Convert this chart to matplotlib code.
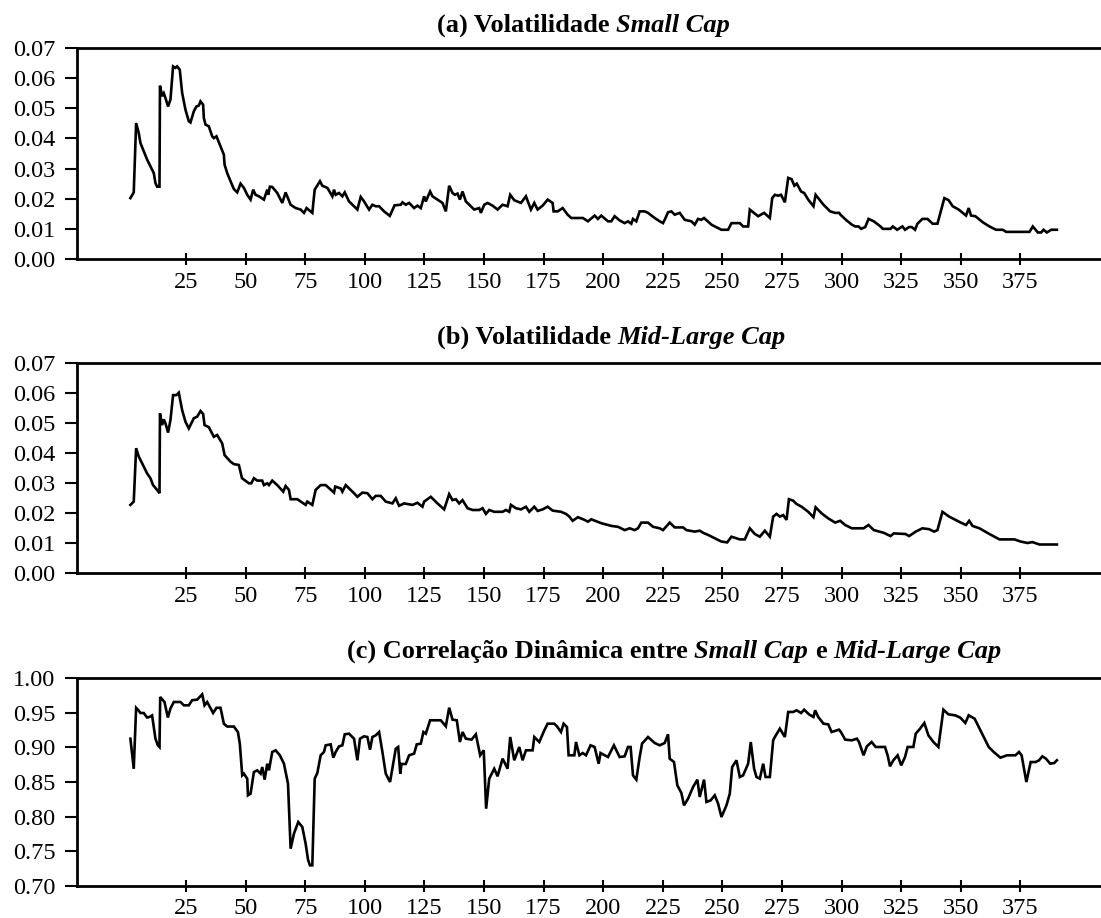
import numpy as np
import matplotlib
matplotlib.use("Agg")
import matplotlib.pyplot as plt

# ---------------- data ----------------
small_cap_vol = [
    (1.7, 0.0202), (3.1, 0.0221), (4.1, 0.0451), (5.2, 0.0418), (5.9, 0.0385), (8.7, 0.0330),
    (11.5, 0.0285), (12.2, 0.0252), (12.9, 0.0240), (13.9, 0.0240), (14.1, 0.0575), (15.0, 0.0540),
    (15.7, 0.0550), (16.4, 0.0534), (17.5, 0.0506), (18.5, 0.0529), (19.6, 0.0639), (20.6, 0.0634),
    (21.3, 0.0639), (22.4, 0.0628), (23.4, 0.0551), (24.8, 0.0495), (26.2, 0.0457), (26.9, 0.0453),
    (28.3, 0.0490), (29.4, 0.0506), (30.4, 0.0509), (31.1, 0.0523), (32.2, 0.0512), (32.5, 0.0468),
    (33.2, 0.0446), (34.6, 0.0440), (36.0, 0.0407), (36.7, 0.0401), (37.8, 0.0407), (39.5, 0.0374),
    (40.9, 0.0346), (41.2, 0.0313), (42.3, 0.0285), (43.7, 0.0258), (45.1, 0.0232), (46.5, 0.0221),
    (47.9, 0.0250), (49.3, 0.0236), (50.7, 0.0213), (52.1, 0.0197), (53.2, 0.0230), (54.2, 0.0213),
    (55.6, 0.0208), (57.7, 0.0197), (59.1, 0.0230), (59.5, 0.0213), (60.2, 0.0240), (61.2, 0.0239),
    (63.3, 0.0219), (65.4, 0.0186), (66.8, 0.0221), (68.9, 0.0180), (71.0, 0.0169), (73.1, 0.0164),
    (74.5, 0.0153), (75.6, 0.0169), (78.0, 0.0153), (79.0, 0.0230), (81.2, 0.0258), (82.2, 0.0243),
    (84.3, 0.0236), (86.4, 0.0208), (87.1, 0.0230), (87.8, 0.0213), (89.2, 0.0219), (90.6, 0.0208),
    (91.6, 0.0221), (93.4, 0.0191), (96.9, 0.0164), (98.3, 0.0206), (99.7, 0.0191), (101.8, 0.0164),
    (103.2, 0.0180), (104.6, 0.0175), (106.0, 0.0175), (108.1, 0.0158), (110.5, 0.0143), (112.5, 0.0178),
    (115.1, 0.0180), (115.8, 0.0188), (117.2, 0.0180), (118.6, 0.0186), (120.7, 0.0169), (122.1, 0.0177),
    (123.5, 0.0169), (124.9, 0.0208), (125.6, 0.0191), (127.4, 0.0224), (128.4, 0.0208), (130.5, 0.0197),
    (132.6, 0.0186), (134.0, 0.0158), (135.4, 0.0243), (136.8, 0.0219), (137.8, 0.0213), (138.9, 0.0217),
    (139.9, 0.0197), (141.0, 0.0224), (142.4, 0.0191), (144.5, 0.0175), (145.9, 0.0164), (148.0, 0.0169),
    (148.7, 0.0153), (150.1, 0.0180), (151.5, 0.0186), (153.6, 0.0177), (155.7, 0.0164), (157.8, 0.0180),
    (159.9, 0.0175), (161.0, 0.0213), (162.7, 0.0195), (165.5, 0.0186), (167.6, 0.0208), (169.7, 0.0164),
    (171.1, 0.0186), (172.5, 0.0164), (174.6, 0.0177), (176.7, 0.0197), (178.8, 0.0186), (179.2, 0.0158),
    (180.9, 0.0158), (183.0, 0.0169), (185.1, 0.0147), (186.6, 0.0136), (191.5, 0.0136), (193.6, 0.0125),
    (196.4, 0.0144), (197.8, 0.0133), (199.2, 0.0144), (202.0, 0.0125), (203.4, 0.0125), (204.8, 0.0142),
    (206.9, 0.0128), (209.0, 0.0119), (210.4, 0.0125), (211.8, 0.0117), (212.5, 0.0133), (213.9, 0.0125),
    (215.3, 0.0158), (217.4, 0.0158), (218.8, 0.0153), (221.6, 0.0136), (223.7, 0.0125), (225.1, 0.0119),
    (225.8, 0.0130), (227.2, 0.0155), (228.6, 0.0158), (230.0, 0.0147), (232.1, 0.0153), (234.2, 0.0130),
    (237.0, 0.0125), (238.4, 0.0114), (239.8, 0.0133), (241.2, 0.0130), (242.3, 0.0136), (245.4, 0.0114),
    (246.8, 0.0108), (249.6, 0.0097), (252.4, 0.0097), (253.8, 0.0119), (257.3, 0.0119), (258.7, 0.0108),
    (260.8, 0.0108), (261.5, 0.0164), (262.9, 0.0155), (265.0, 0.0142), (267.5, 0.0153), (269.9, 0.0136),
    (270.9, 0.0202), (272.0, 0.0213), (273.4, 0.0210), (274.6, 0.0213), (276.2, 0.0188), (277.6, 0.0269),
    (279.0, 0.0265), (280.2, 0.0243), (281.2, 0.0250), (283.0, 0.0224), (284.3, 0.0219), (286.0, 0.0197),
    (288.2, 0.0175), (289.1, 0.0213), (290.2, 0.0202), (292.4, 0.0180), (295.2, 0.0158), (297.3, 0.0153),
    (299.0, 0.0153), (299.5, 0.0147), (302.1, 0.0128), (304.3, 0.0114), (305.7, 0.0108), (307.1, 0.0108),
    (308.2, 0.0100), (309.9, 0.0106), (311.3, 0.0133), (313.5, 0.0125), (316.3, 0.0108), (317.3, 0.0100),
    (320.5, 0.0100), (321.5, 0.0108), (323.3, 0.0097), (325.5, 0.0108), (326.6, 0.0097), (328.3, 0.0106),
    (329.4, 0.0106), (330.8, 0.0097), (331.8, 0.0117), (333.9, 0.0133), (336.0, 0.0133), (338.2, 0.0117),
    (340.2, 0.0117), (341.6, 0.0158), (343.1, 0.0202), (344.9, 0.0195), (346.6, 0.0175), (349.1, 0.0164),
    (352.2, 0.0144), (353.3, 0.0169), (354.3, 0.0144), (356.1, 0.0142), (359.2, 0.0122), (362.0, 0.0108),
    (364.8, 0.0097), (367.6, 0.0097), (369.0, 0.0090), (378.8, 0.0090), (380.2, 0.0108), (382.3, 0.0088),
    (383.7, 0.0088), (384.7, 0.0097), (386.1, 0.0088), (387.9, 0.0097), (390.3, 0.0097),
]

midlarge_cap_vol = [
    (1.7, 0.0227), (3.1, 0.0238), (4.1, 0.0416), (5.2, 0.0388), (6.6, 0.0366), (8.7, 0.0332),
    (10.1, 0.0316), (11.2, 0.0293), (12.9, 0.0277), (13.9, 0.0266), (14.1, 0.0532), (15.0, 0.0493),
    (15.7, 0.0512), (16.4, 0.0499), (17.5, 0.0468), (18.5, 0.0510), (19.6, 0.0593), (21.0, 0.0593),
    (22.0, 0.0601), (23.4, 0.0543), (24.8, 0.0504), (26.2, 0.0482), (28.3, 0.0516), (29.7, 0.0521),
    (31.1, 0.0540), (32.2, 0.0530), (32.8, 0.0493), (34.6, 0.0486), (36.7, 0.0454), (38.1, 0.0460),
    (40.2, 0.0432), (41.2, 0.0393), (43.7, 0.0371), (45.1, 0.0363), (47.2, 0.0360), (48.5, 0.0316),
    (51.4, 0.0299), (52.4, 0.0299), (53.5, 0.0316), (54.9, 0.0308), (57.0, 0.0308), (57.7, 0.0293),
    (59.1, 0.0299), (59.8, 0.0293), (61.2, 0.0308), (63.3, 0.0293), (65.8, 0.0271), (66.8, 0.0290),
    (68.2, 0.0277), (68.9, 0.0246), (71.7, 0.0246), (75.2, 0.0227), (75.9, 0.0238), (78.0, 0.0227),
    (79.4, 0.0277), (81.5, 0.0293), (83.6, 0.0293), (87.1, 0.0268), (87.6, 0.0288), (89.9, 0.0282),
    (90.6, 0.0271), (92.0, 0.0293), (95.5, 0.0266), (96.9, 0.0254), (99.0, 0.0268), (101.1, 0.0266),
    (103.2, 0.0246), (104.6, 0.0257), (106.7, 0.0257), (108.8, 0.0238), (111.6, 0.0232), (113.0, 0.0249),
    (114.4, 0.0224), (116.5, 0.0232), (120.0, 0.0227), (122.1, 0.0234), (124.2, 0.0221), (124.9, 0.0238),
    (127.7, 0.0254), (130.5, 0.0232), (133.3, 0.0212), (135.4, 0.0263), (136.8, 0.0243), (138.2, 0.0246),
    (139.6, 0.0232), (141.0, 0.0243), (143.1, 0.0216), (145.2, 0.0210), (148.0, 0.0210), (149.4, 0.0216),
    (150.8, 0.0197), (152.2, 0.0210), (154.3, 0.0204), (157.8, 0.0204), (159.2, 0.0210), (160.6, 0.0204),
    (161.3, 0.0227), (163.4, 0.0216), (165.5, 0.0212), (167.6, 0.0221), (169.0, 0.0204), (171.1, 0.0221),
    (172.5, 0.0207), (174.6, 0.0212), (176.7, 0.0221), (178.8, 0.0208), (182.3, 0.0204), (184.4, 0.0197),
    (185.8, 0.0188), (187.2, 0.0174), (189.4, 0.0186), (192.2, 0.0177), (193.6, 0.0171), (195.0, 0.0179),
    (199.2, 0.0166), (203.4, 0.0157), (206.2, 0.0154), (209.0, 0.0143), (211.1, 0.0149), (213.2, 0.0143),
    (214.6, 0.0149), (216.0, 0.0168), (218.8, 0.0168), (220.9, 0.0154), (223.7, 0.0149), (225.1, 0.0143),
    (227.9, 0.0168), (230.0, 0.0152), (233.5, 0.0152), (234.9, 0.0143), (238.4, 0.0138), (240.5, 0.0141),
    (241.9, 0.0134), (244.0, 0.0127), (246.8, 0.0116), (249.5, 0.0105), (252.0, 0.0102), (253.8, 0.0121),
    (257.3, 0.0112), (259.4, 0.0112), (261.5, 0.0149), (263.6, 0.0130), (265.7, 0.0121), (267.8, 0.0141),
    (269.9, 0.0121), (271.3, 0.0188), (272.7, 0.0197), (274.1, 0.0188), (275.5, 0.0193), (276.9, 0.0177),
    (277.9, 0.0246), (279.7, 0.0241), (281.1, 0.0230), (283.2, 0.0221), (286.0, 0.0204), (288.2, 0.0186),
    (289.1, 0.0219), (291.6, 0.0199), (294.4, 0.0182), (297.3, 0.0168), (299.4, 0.0174), (301.5, 0.0160),
    (304.3, 0.0149), (309.2, 0.0149), (311.3, 0.0160), (313.5, 0.0143), (317.7, 0.0134), (320.5, 0.0123),
    (321.9, 0.0132), (326.8, 0.0130), (328.3, 0.0123), (331.1, 0.0138), (333.9, 0.0149), (336.7, 0.0146),
    (338.8, 0.0138), (340.2, 0.0143), (342.3, 0.0204), (345.1, 0.0188), (350.0, 0.0168), (352.2, 0.0160),
    (353.5, 0.0174), (354.9, 0.0157), (357.8, 0.0149), (362.0, 0.0130), (366.2, 0.0112), (372.5, 0.0112),
    (375.0, 0.0105), (378.0, 0.0100), (380.0, 0.0103), (383.0, 0.0095), (390.3, 0.0095),
]

dynamic_corr = [
    (1.7, 0.9125), (3.1, 0.869), (4.1, 0.957), (5.2, 0.953), (5.9, 0.9495), (7.3, 0.9495), (8.7, 0.943),
    (9.8, 0.944), (10.8, 0.946), (12.2, 0.9125), (13.2, 0.903), (13.9, 0.9005), (14.2, 0.9726),
    (16.0, 0.9654), (17.4, 0.943), (18.5, 0.956), (19.9, 0.9654), (22.7, 0.9654), (24.1, 0.9606),
    (26.2, 0.9606), (27.6, 0.968), (29.7, 0.9688), (31.8, 0.9764), (32.8, 0.9606), (33.9, 0.9654),
    (36.4, 0.9495), (37.8, 0.957), (39.5, 0.957), (40.9, 0.934), (42.3, 0.930), (45.1, 0.930),
    (46.8, 0.922), (47.6, 0.905), (48.6, 0.8596), (49.3, 0.862), (50.7, 0.8548), (51.0, 0.8308),
    (52.1, 0.8332), (53.5, 0.8644), (54.9, 0.8668), (56.3, 0.862), (57.0, 0.8716), (58.0, 0.8534),
    (59.1, 0.8764), (59.8, 0.8668), (61.2, 0.8933), (62.6, 0.8957), (64.4, 0.8885), (66.1, 0.8764),
    (67.8, 0.8476), (68.9, 0.7538), (70.3, 0.7755), (72.1, 0.7923), (73.8, 0.7851), (75.2, 0.761),
    (76.2, 0.738), (77.0, 0.7298), (78.0, 0.7298), (79.0, 0.8548), (80.1, 0.863), (81.5, 0.8885),
    (82.9, 0.8933), (83.6, 0.9029), (85.7, 0.9043), (86.8, 0.8851), (87.8, 0.8933), (89.2, 0.9014),
    (90.6, 0.9029), (91.6, 0.9188), (93.4, 0.9197), (95.5, 0.9125), (96.9, 0.8813), (98.0, 0.9125),
    (99.7, 0.9159), (101.1, 0.9149), (102.2, 0.8966), (103.2, 0.9149), (104.6, 0.9173), (106.0, 0.9221),
    (107.4, 0.8933), (108.8, 0.862), (110.6, 0.850), (113.0, 0.898), (114.0, 0.9005), (114.9, 0.862),
    (115.4, 0.876), (117.2, 0.876), (118.6, 0.8885), (120.7, 0.891), (121.8, 0.9043), (123.5, 0.9053),
    (124.6, 0.9221), (125.6, 0.9197), (127.4, 0.939), (131.9, 0.939), (134.0, 0.9303), (135.4, 0.9572),
    (136.8, 0.9399), (138.6, 0.939), (139.9, 0.9077), (141.0, 0.9221), (142.4, 0.9125), (144.8, 0.9111),
    (146.6, 0.9188), (148.4, 0.8885), (149.9, 0.8957), (150.9, 0.8115), (152.2, 0.8548), (154.3, 0.8692),
    (155.7, 0.8582), (157.8, 0.8837), (159.9, 0.8692), (161.0, 0.9149), (162.7, 0.8813), (164.8, 0.9005),
    (166.2, 0.8813), (167.6, 0.8957), (170.4, 0.8957), (171.1, 0.9149), (173.2, 0.9077), (175.3, 0.9245),
    (176.7, 0.9341), (179.5, 0.9341), (180.6, 0.9303), (182.3, 0.9221), (183.4, 0.9341), (184.8, 0.9293),
    (185.5, 0.8885), (187.9, 0.8885), (188.6, 0.9077), (190.0, 0.8885), (191.4, 0.8918), (192.8, 0.8885),
    (194.7, 0.9029), (196.4, 0.9005), (198.1, 0.8764), (198.9, 0.8918), (202.0, 0.886), (204.5, 0.9029),
    (206.9, 0.886), (209.0, 0.887), (210.4, 0.9005), (211.5, 0.9005), (212.5, 0.8596), (213.9, 0.8534),
    (215.3, 0.886), (216.3, 0.9053), (218.8, 0.9149), (221.6, 0.9063), (223.7, 0.9029), (225.8, 0.9063),
    (227.2, 0.9188), (227.9, 0.8837), (229.7, 0.8788), (231.1, 0.8452), (232.8, 0.8341), (233.9, 0.8163),
    (235.6, 0.826), (237.7, 0.8428), (239.5, 0.8534), (240.5, 0.8284), (242.3, 0.8534), (243.3, 0.8212),
    (245.1, 0.8236), (246.8, 0.8308), (248.2, 0.8188), (249.6, 0.7995), (251.7, 0.8163), (253.1, 0.8332),
    (254.1, 0.8716), (255.9, 0.8813), (257.3, 0.8572), (258.7, 0.8596), (260.8, 0.8764), (261.9, 0.9077),
    (263.3, 0.8692), (264.3, 0.8572), (265.7, 0.8548), (267.1, 0.8764), (268.1, 0.8572), (269.9, 0.8572),
    (271.3, 0.9101), (272.0, 0.9149), (274.1, 0.9269), (276.2, 0.9149), (277.6, 0.951), (279.7, 0.951),
    (281.1, 0.9534), (283.0, 0.9495), (284.3, 0.9543), (286.3, 0.9476), (288.2, 0.9438), (288.9, 0.9534),
    (290.2, 0.9438), (292.4, 0.9341), (294.4, 0.9332), (295.8, 0.9221), (298.9, 0.9255), (299.7, 0.9221),
    (301.5, 0.9111), (304.3, 0.9101), (306.4, 0.9125), (307.3, 0.9077), (309.2, 0.8885), (310.6, 0.9014),
    (312.6, 0.9077), (314.3, 0.9005), (318.2, 0.9005), (319.3, 0.8885), (320.3, 0.8726), (321.7, 0.8813),
    (323.5, 0.8885), (325.0, 0.874), (326.6, 0.886), (327.7, 0.9005), (330.1, 0.9005), (331.1, 0.9197),
    (332.9, 0.9269), (334.7, 0.9351), (336.4, 0.9173), (338.5, 0.9077), (340.6, 0.9005), (342.7, 0.9543),
    (344.8, 0.9476), (347.6, 0.9462), (349.8, 0.9428), (351.9, 0.9351), (353.3, 0.9462), (355.8, 0.9413),
    (358.9, 0.9197), (361.7, 0.9005), (363.8, 0.8933), (366.6, 0.8851), (369.4, 0.8885), (372.9, 0.8885),
    (374.4, 0.8933), (375.5, 0.8885), (377.5, 0.850), (379.3, 0.8788), (381.4, 0.8788), (382.8, 0.8813),
    (384.2, 0.887), (385.7, 0.8837), (387.5, 0.8764), (389.2, 0.8774), (390.3, 0.8813),
]

x_ticks = [25, 50, 75, 100, 125, 150, 175, 200, 225, 250, 275, 300, 325, 350, 375]
vol_ticks = [0.00, 0.01, 0.02, 0.03, 0.04, 0.05, 0.06, 0.07]
corr_ticks = [0.70, 0.75, 0.80, 0.85, 0.90, 0.95, 1.00]

titles = [
    [("(a) Volatilidade", "normal"), (" ", None), ("Small Cap", "italic")],
    [("(b) Volatilidade", "normal"), (" ", None), ("Mid-Large Cap", "italic")],
    [("(c) Correlação Dinâmica entre", "normal"), (" ", None), ("Small Cap", "italic"),
     (" ", None), ("e", "normal"), (" ", None), ("Mid-Large Cap", "italic")],
]

# ---------------- figure ----------------
W, H = 1101, 918
DPI = 100
FONT = "Liberation Serif"
plt.rcParams["font.family"] = [FONT, "DejaVu Serif"]

fig = plt.figure(figsize=(W / DPI, H / DPI), dpi=DPI)

# axes boxes in pixels: (left, top, bottom)
boxes = [(77, 48, 259), (77, 363, 573), (77, 678, 886)]
series = [small_cap_vol, midlarge_cap_vol, dynamic_corr]
ylims = [(0.0, 0.07), (0.0, 0.07), (0.70, 1.00)]
yticks = [vol_ticks, vol_ticks, corr_ticks]
title_pos = [(437, 32), (437, 344), (347, 658)]
XLIM = (-20.7, 408.8)

for (l, t, b), data, yl, yt in zip(boxes, series, ylims, yticks):
    ax = fig.add_axes([l / W, (H - b) / H, (W - l) / W, (b - t) / H])
    arr = np.array(data)
    ax.plot(arr[:, 0], arr[:, 1], color="black", lw=1.9, solid_joinstyle="miter")
    ax.set_xlim(*XLIM)
    ax.set_ylim(*yl)
    ax.set_xticks(x_ticks)
    ax.set_xticklabels([str(v) for v in x_ticks])
    ax.set_yticks(yt)
    ax.set_yticklabels([f"{v:.2f}" for v in yt])
    ax.spines["right"].set_visible(False)
    for s in ("left", "bottom", "top"):
        ax.spines[s].set_linewidth(2.0)
    ax.tick_params(axis="y", direction="out", length=8.6, width=1.5, pad=7, labelsize=17.5)
    ax.tick_params(axis="x", direction="inout", length=8, width=1.5, pad=5, labelsize=17.5)
    for lab in ax.get_xticklabels() + ax.get_yticklabels():
        lab.set_fontfamily(FONT)

# titles with mixed bold / bold-italic pieces
renderer = fig.canvas.get_renderer()
TSIZE = 19


def text_width(s, style):
    t = fig.text(0, 0, s, fontsize=TSIZE, fontweight="bold", fontstyle=style, family=FONT)
    w = t.get_window_extent(renderer).width
    t.remove()
    return w


space_w = text_width("a a", "normal") - text_width("aa", "normal")

for (x0, y0), pieces in zip(title_pos, titles):
    x = x0
    for txt, style in pieces:
        if style is None:
            x += space_w
            continue
        t = fig.text(x / W, 1 - y0 / H, txt, fontsize=TSIZE, fontweight="bold",
                     fontstyle=style, family=FONT, ha="left", va="baseline")
        x += t.get_window_extent(renderer).width

fig.savefig("out.png", dpi=DPI)
